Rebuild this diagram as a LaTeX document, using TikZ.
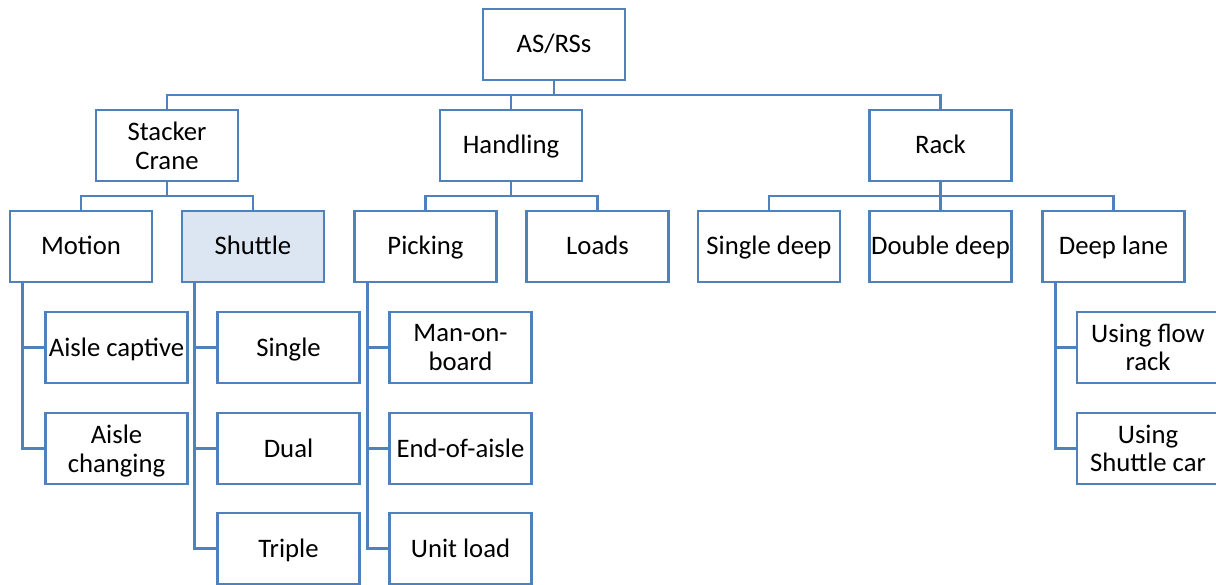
\documentclass[tikz,border=0pt]{standalone}
\usepackage{fontspec}
\setmainfont{Carlito}
\definecolor{edge}{RGB}{79,129,189}
\definecolor{shade}{RGB}{220,230,242}
\tikzset{
  box/.style={draw=edge, line width=2.8pt, fill=white, minimum width=142pt,
    minimum height=71pt, inner sep=0pt, align=center, text depth=0pt,
    font=\fontsize{26.7}{28.5}\selectfont},
  one/.style={box, text height=17pt},
  two/.style={box},
  link/.style={draw=edge, line width=2.8pt}
}
\begin{document}
\begin{tikzpicture}[x=1pt, y=-1pt]
\useasboundingbox (0,0) rectangle (1216,585);
% tree nodes
\node[one] (root) at (554,44.5) {AS/RSs};
\node[two] (stacker) at (167,145.5) {Stacker\\Crane};
\node[one] (handling) at (511,145.5) {Handling};
\node[one] (rack) at (940.5,145.5) {Rack};
\node[one] (motion) at (81,246.5) {Motion};
\node[one, fill=shade] (shuttle) at (253,246.5) {Shuttle};
\node[one] (picking) at (425.5,246.5) {Picking};
\node[one] (loads) at (597.5,246.5) {Loads};
\node[one] (sdeep) at (769,246.5) {Single deep};
\node[one] (ddeep) at (940.5,246.5) {Double deep};
\node[one] (lane) at (1113.5,246.5) {Deep lane};
\node[one] (captive) at (116.5,347.5) {Aisle captive};
\node[two] (changing) at (116.5,448.5) {Aisle\\changing};
\node[one] (single) at (288.5,347.5) {Single};
\node[one] (dual) at (288.5,448.5) {Dual};
\node[one] (triple) at (288.5,548.5) {Triple};
\node[two] (manon) at (460.5,347.5) {Man-on-\\board};
\node[one] (endaisle) at (460.5,448.5) {End-of-aisle};
\node[one] (unitload) at (460.5,548.5) {Unit load};
\node[two] (flow) at (1148,347.5) {Using flow\\rack};
\node[two] (car) at (1148,448.5) {Using\\Shuttle car};
% bus lines
\coordinate (bus0) at (0,95);
\coordinate (bus1) at (0,196);
% first level
\foreach \c in {stacker,handling,rack}
  \draw[link] (root.south) -- (root.south |- bus0) -| (\c.north);
% second level
\foreach \p/\c in {stacker/motion,stacker/shuttle,handling/picking,handling/loads,rack/sdeep,rack/ddeep,rack/lane}
  \draw[link] (\p.south) -- (\p.south |- bus1) -| (\c.north);
% side trunks
\foreach \p/\c in {motion/captive,motion/changing,shuttle/single,shuttle/dual,shuttle/triple,
  picking/manon,picking/endaisle,picking/unitload,lane/flow,lane/car}
  \draw[link] ([xshift=14pt]\p.south west) |- (\c.west);
\end{tikzpicture}
\end{document}
